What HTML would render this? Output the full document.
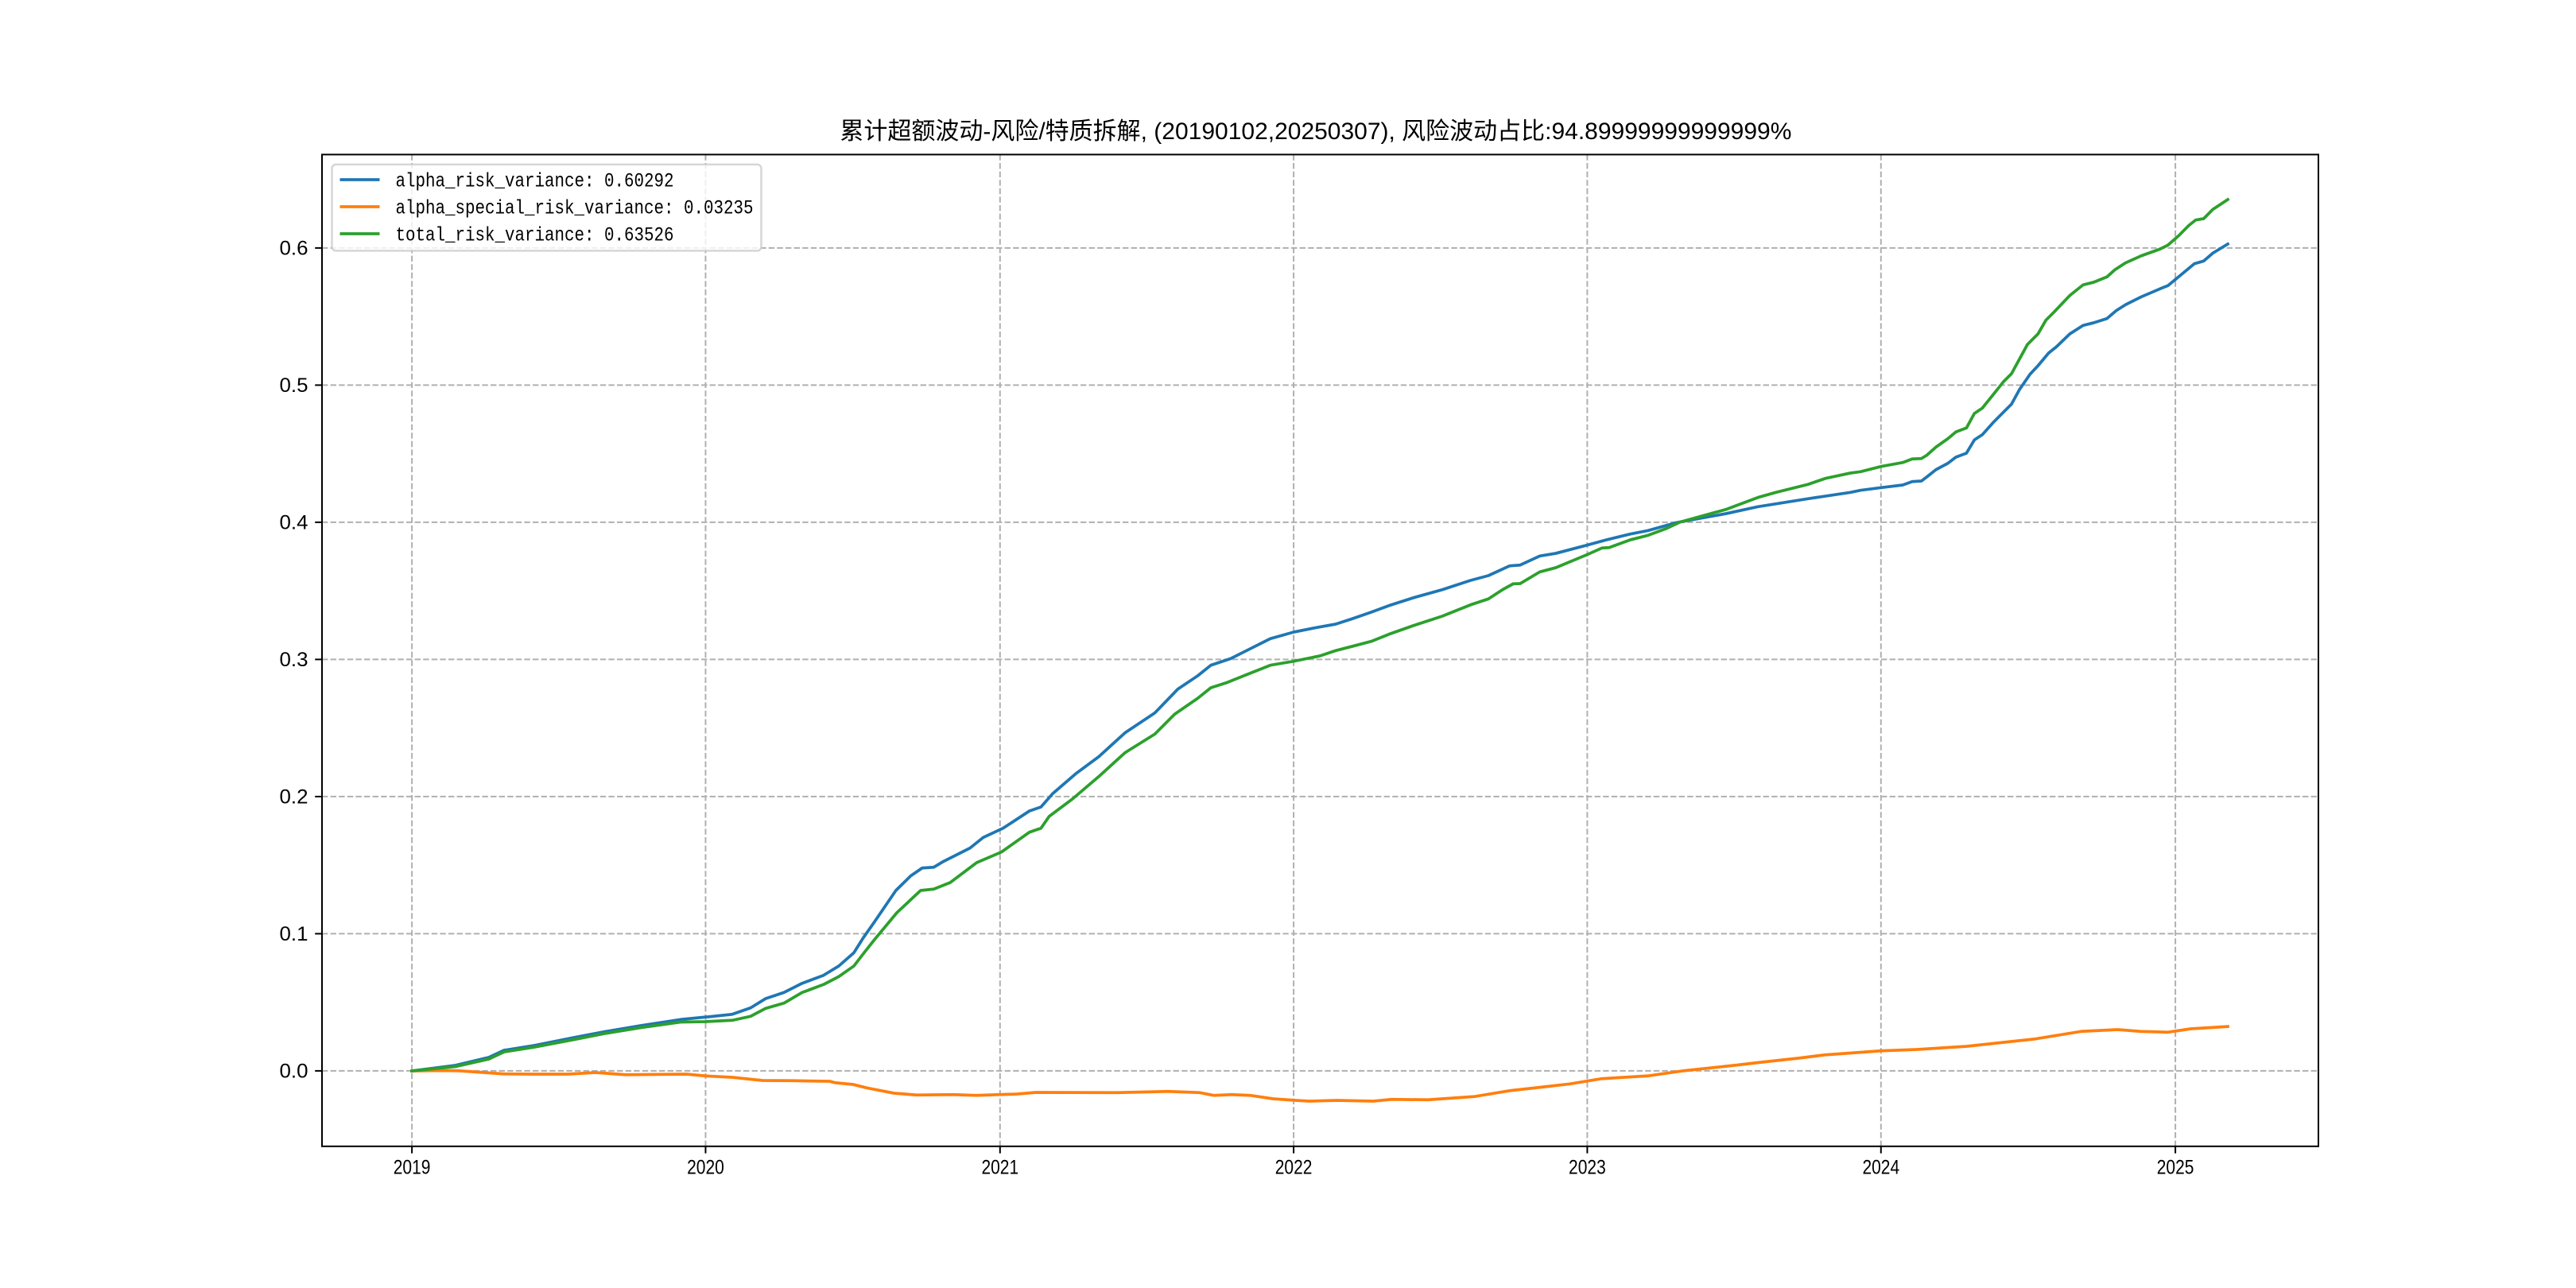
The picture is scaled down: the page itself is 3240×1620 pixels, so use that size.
<!DOCTYPE html>
<html><head><meta charset="utf-8"><style>
html,body{margin:0;padding:0;background:#fff;}
svg{display:block;}
</style></head><body>
<svg xmlns="http://www.w3.org/2000/svg" width="3240" height="1620" viewBox="0 0 3240 1620">
<rect x="0" y="0" width="3240" height="1620" fill="#fff"/>
<text x="1056.4" y="175" font-family="'Liberation Sans','Noto Sans CJK SC',sans-serif" font-size="30" fill="#000" textLength="1197" lengthAdjust="spacingAndGlyphs">累计超额波动-风险/特质拆解, (20190102,20250307), 风险波动占比:94.89999999999999%</text>
<g stroke="#b0b0b0" stroke-width="2" stroke-dasharray="7.4,3.2" fill="none">
<line x1="518.1" y1="194.4" x2="518.1" y2="1441.8"/>
<line x1="887.45" y1="194.4" x2="887.45" y2="1441.8"/>
<line x1="1257.8" y1="194.4" x2="1257.8" y2="1441.8"/>
<line x1="1627.1" y1="194.4" x2="1627.1" y2="1441.8"/>
<line x1="1996.4" y1="194.4" x2="1996.4" y2="1441.8"/>
<line x1="2365.8" y1="194.4" x2="2365.8" y2="1441.8"/>
<line x1="2736.1" y1="194.4" x2="2736.1" y2="1441.8"/>
<line x1="405" y1="1346.9" x2="2916" y2="1346.9"/>
<line x1="405" y1="1174.4" x2="2916" y2="1174.4"/>
<line x1="405" y1="1001.9" x2="2916" y2="1001.9"/>
<line x1="405" y1="829.4" x2="2916" y2="829.4"/>
<line x1="405" y1="656.9" x2="2916" y2="656.9"/>
<line x1="405" y1="484.4" x2="2916" y2="484.4"/>
<line x1="405" y1="311.9" x2="2916" y2="311.9"/>
</g>
<g fill="none" stroke-width="3.75" stroke-linejoin="round" stroke-linecap="square">
<polyline stroke="#1f77b4" points="518,1347 572.7,1340 614.8,1330 634,1321 672,1315 722,1305 760,1297.7 806,1290 856,1282.3 887,1279.3 921,1275.7 944,1267.7 963,1256 986,1248.3 1009,1236.7 1035.8,1226.7 1055,1215 1074,1198.3 1085.5,1180 1100,1159.3 1126.8,1120 1145.4,1101.7 1160,1091.7 1174.5,1090.7 1187,1083.3 1220,1066.7 1236.7,1053.3 1261.6,1041.7 1294.8,1020 1309.3,1015 1323.9,998.3 1352.9,973.3 1382,951.7 1415,921.7 1452.5,896.7 1481.5,866.7 1506.4,850 1523,836.7 1548,828.3 1564.5,820 1597.7,803.3 1627.2,795 1655.8,789.3 1680,785 1700.6,778.3 1724.6,770 1747,761.7 1778.2,751.7 1814,741.7 1849.6,730 1872,724 1898.8,711.7 1912,710.7 1936.7,699.3 1956.8,696 1996,685.7 2019.3,679.3 2050.5,671.7 2072.9,667.3 2108.6,657.3 2171,646 2211,637.3 2273.8,627.3 2327.3,619.3 2340,616.7 2366,613.3 2393.3,610 2405,605.7 2416.7,605 2423.3,600 2435,590.7 2450,582.7 2460,575 2473.3,570 2483.3,553.3 2493.3,546.7 2506.7,531.7 2520,518.3 2530,508.3 2540,490 2553.3,470.7 2563.3,460 2576.7,444 2586.7,436 2603.3,420 2620,409.3 2633.3,406 2650,400.7 2661.7,390.7 2673.3,383.3 2693.3,373.3 2716.7,363.3 2726.7,359.3 2740,348.3 2760,331.7 2771.7,328.3 2783.3,318.3 2802,306.9"/>
<polyline stroke="#ff7f0e" points="518,1347 557.4,1346.5 576.5,1346.7 634,1350.7 672.2,1351 714.3,1351 748.8,1349 787,1351.7 863.6,1351 887.3,1353.3 921,1355 959.2,1359 997.5,1359.3 1043.4,1360 1050,1361.7 1073,1364 1090.2,1368.3 1124.6,1375 1153.3,1377.3 1199.3,1376.7 1228,1377.7 1279.6,1376 1302.6,1374 1405.9,1374.3 1469,1372.7 1509.2,1374.3 1526.5,1377.7 1549.4,1376.7 1572.4,1377.7 1601.1,1382 1629.8,1384 1647,1385 1681.5,1384 1727.4,1385 1750.3,1382.7 1796.3,1383.3 1853.7,1379.3 1899.6,1371.7 1940,1367.3 1974.4,1363.3 2014.6,1356.7 2072,1353.3 2118,1346.7 2181.1,1340 2215.5,1336 2261.5,1331 2295.9,1326.7 2364.8,1321.7 2410.7,1320 2473.9,1316 2560,1306.7 2617.4,1297.3 2663.3,1295 2692,1297.3 2726.5,1298.3 2755.2,1294 2783.9,1292.3 2802,1291.1"/>
<polyline stroke="#2ca02c" points="518,1347 572.7,1341.5 614.8,1332 634,1323 672,1317 722,1307.5 760,1300 806,1292.5 856,1285.5 887,1285 921,1283.3 944,1278.3 963,1268.3 986,1261.7 1009,1248.3 1035.8,1238.3 1055,1228.3 1074,1215 1085.5,1200 1100,1181.7 1128,1148 1157.9,1120 1174.5,1118.3 1195.2,1110 1228.4,1085 1259.5,1071.7 1294.8,1046.7 1309.3,1041.7 1319.7,1026.7 1348.8,1005 1382,976.7 1415,946.7 1452.5,923.3 1477.4,898.3 1506.4,878.3 1523,865 1543.8,858.3 1568.7,848.3 1597.7,836.7 1627.2,831.7 1660,825 1680,818.3 1700.6,813 1724.6,806.7 1747,797.7 1778.2,786.7 1814,775 1849.6,760.7 1872,753.3 1889.8,741.7 1903.2,734.3 1912,734 1936.7,719.3 1956.8,714 1996,697.7 2014.8,689.3 2023.8,688.7 2050.5,679 2072.9,673.3 2095.2,665 2113,656.7 2171,640.7 2211,625.7 2233.6,619.3 2273.8,609.3 2296,601.7 2327.3,595 2340,593.3 2366,586.7 2393.3,581.7 2405,577.3 2416.7,576.7 2423.3,572.7 2435,562.3 2450,551.7 2460,543.3 2473.3,538.3 2483.3,520 2493.3,513.3 2506.7,496.7 2520,480 2530,470 2540,451.7 2550,433.3 2563.3,420 2573.3,402.7 2583.3,392.7 2603.3,371.7 2620,358.3 2633.3,355 2650,348.3 2660,339.3 2673.3,330.7 2693.3,321.7 2716.7,313.3 2726.7,308.3 2740,296.7 2753.3,283.3 2761.7,276.7 2771.7,275 2783.3,263.3 2802,251"/>
</g>
<rect x="405" y="194.4" width="2511" height="1247.4" fill="none" stroke="#000" stroke-width="2"/>
<g stroke="#000" stroke-width="2">
<line x1="518.1" y1="1441.8" x2="518.1" y2="1450.6"/>
<line x1="887.45" y1="1441.8" x2="887.45" y2="1450.6"/>
<line x1="1257.8" y1="1441.8" x2="1257.8" y2="1450.6"/>
<line x1="1627.1" y1="1441.8" x2="1627.1" y2="1450.6"/>
<line x1="1996.4" y1="1441.8" x2="1996.4" y2="1450.6"/>
<line x1="2365.8" y1="1441.8" x2="2365.8" y2="1450.6"/>
<line x1="2736.1" y1="1441.8" x2="2736.1" y2="1450.6"/>
<line x1="396.2" y1="1346.9" x2="405" y2="1346.9"/>
<line x1="396.2" y1="1174.4" x2="405" y2="1174.4"/>
<line x1="396.2" y1="1001.9" x2="405" y2="1001.9"/>
<line x1="396.2" y1="829.4" x2="405" y2="829.4"/>
<line x1="396.2" y1="656.9" x2="405" y2="656.9"/>
<line x1="396.2" y1="484.4" x2="405" y2="484.4"/>
<line x1="396.2" y1="311.9" x2="405" y2="311.9"/>
</g>
<g font-family="'Liberation Sans',sans-serif" font-size="25" fill="#000" text-anchor="middle">
<text x="518.1" y="1476.7" textLength="46.7" lengthAdjust="spacingAndGlyphs">2019</text>
<text x="887.45" y="1476.7" textLength="46.7" lengthAdjust="spacingAndGlyphs">2020</text>
<text x="1257.8" y="1476.7" textLength="46.7" lengthAdjust="spacingAndGlyphs">2021</text>
<text x="1627.1" y="1476.7" textLength="46.7" lengthAdjust="spacingAndGlyphs">2022</text>
<text x="1996.4" y="1476.7" textLength="46.7" lengthAdjust="spacingAndGlyphs">2023</text>
<text x="2365.8" y="1476.7" textLength="46.7" lengthAdjust="spacingAndGlyphs">2024</text>
<text x="2736.1" y="1476.7" textLength="46.7" lengthAdjust="spacingAndGlyphs">2025</text>
</g>
<g font-family="'Liberation Sans',sans-serif" font-size="25" fill="#000" text-anchor="end">
<text x="387.5" y="1355.4" textLength="36" lengthAdjust="spacingAndGlyphs">0.0</text>
<text x="387.5" y="1182.9" textLength="36" lengthAdjust="spacingAndGlyphs">0.1</text>
<text x="387.5" y="1010.4" textLength="36" lengthAdjust="spacingAndGlyphs">0.2</text>
<text x="387.5" y="837.9" textLength="36" lengthAdjust="spacingAndGlyphs">0.3</text>
<text x="387.5" y="665.4" textLength="36" lengthAdjust="spacingAndGlyphs">0.4</text>
<text x="387.5" y="492.9" textLength="36" lengthAdjust="spacingAndGlyphs">0.5</text>
<text x="387.5" y="320.4" textLength="36" lengthAdjust="spacingAndGlyphs">0.6</text>
</g>
<rect x="417.5" y="206.9" width="540" height="108.5" rx="5" ry="5" fill="#fff" fill-opacity="0.8" stroke="#cccccc" stroke-opacity="0.8" stroke-width="2.5"/>
<g stroke-width="3.75">
<line x1="427.5" y1="226" x2="477.5" y2="226" stroke="#1f77b4"/>
<line x1="427.5" y1="260" x2="477.5" y2="260" stroke="#ff7f0e"/>
<line x1="427.5" y1="294" x2="477.5" y2="294" stroke="#2ca02c"/>
</g>
<g font-family="'Liberation Mono',monospace" font-size="25" fill="#000">
<text x="497.5" y="234.5" textLength="350" lengthAdjust="spacingAndGlyphs">alpha_risk_variance: 0.60292</text>
<text x="497.5" y="268.5" textLength="450" lengthAdjust="spacingAndGlyphs">alpha_special_risk_variance: 0.03235</text>
<text x="497.5" y="302.5" textLength="350" lengthAdjust="spacingAndGlyphs">total_risk_variance: 0.63526</text>
</g>
</svg>
</body></html>
